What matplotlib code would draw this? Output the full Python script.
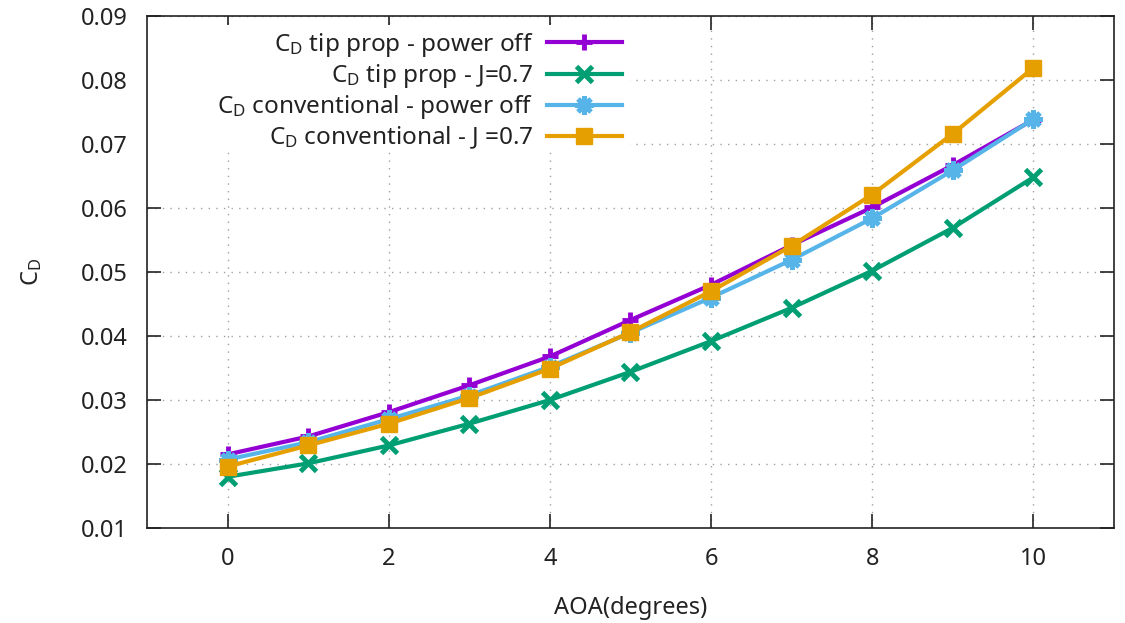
import matplotlib
matplotlib.use("Agg")
import matplotlib.pyplot as plt
from matplotlib.patches import Rectangle

aoa = [0, 1, 2, 3, 4, 5, 6, 7, 8, 9, 10]
cd_tip_off = [0.0215, 0.0243, 0.0281, 0.0323, 0.0368, 0.0425, 0.0480, 0.0542, 0.0601, 0.0667, 0.0738]
cd_tip_j07 = [0.0180, 0.0201, 0.0229, 0.0263, 0.0300, 0.0344, 0.0392, 0.0444, 0.0502, 0.0569, 0.0648]
cd_conv_off = [0.0207, 0.0234, 0.0270, 0.0307, 0.0352, 0.0405, 0.0460, 0.0519, 0.0584, 0.0659, 0.0739]
cd_conv_j07 = [0.0196, 0.0229, 0.0263, 0.0303, 0.0349, 0.0406, 0.0470, 0.0541, 0.0621, 0.0716, 0.0819]

labels = [r"C$_\mathrm{D}$ tip prop - power off",
          r"C$_\mathrm{D}$ tip prop - J=0.7",
          r"C$_\mathrm{D}$ conventional - power off",
          r"C$_\mathrm{D}$ conventional - J =0.7"]
xticks = [0, 2, 4, 6, 8, 10]
yticks = [0.01, 0.02, 0.03, 0.04, 0.05, 0.06, 0.07, 0.08, 0.09]

plt.rcParams['font.family'] = ['Noto Sans', 'DejaVu Sans']
plt.rcParams['mathtext.fontset'] = 'custom'
plt.rcParams['mathtext.rm'] = 'Noto Sans'
plt.rcParams['mathtext.it'] = 'Noto Sans:italic'
plt.rcParams['mathtext.bf'] = 'Noto Sans:bold'
fs = 17
tc = '#222222'

fig = plt.figure(figsize=(11.25, 6.23), dpi=100)
ax = fig.add_axes([147/1125, 1-528/623, (1114-147)/1125, (528-16)/623])

ax.plot(aoa, cd_tip_off, color='#9400d3', lw=3, marker='+', ms=12, mew=3.5, label=labels[0], zorder=3)
ax.plot(aoa, cd_tip_j07, color='#009e73', lw=3, marker='x', ms=11, mew=3.5, label=labels[1], zorder=3)
ax.plot(aoa, cd_conv_off, color='#56b4e9', lw=3, marker=(8, 2, 0), ms=13, mew=3.5, label=labels[2], zorder=3)
ax.plot(aoa, cd_conv_j07, color='#e69f00', lw=3, marker='s', ms=11, mew=1, label=labels[3], zorder=3)

ax.set_xlim(-1, 11)
ax.set_ylim(0.01, 0.09)
ax.set_xticks(xticks)
ax.set_yticks(yticks)
ax.set_xticklabels([str(v) for v in xticks], fontsize=fs)
ax.set_yticklabels([f"{v:.2f}" for v in yticks], fontsize=fs)
ax.tick_params(direction='in', length=10, width=1.2, top=True, right=True, colors=tc)
ax.tick_params(axis='y', pad=14)
ax.tick_params(axis='x', pad=14)
for s in ax.spines.values():
    s.set_linewidth(1.2)
    s.set_color(tc)

ax.set_axisbelow(True)
ax.grid(True, color='#a0a0a0', lw=1, linestyle=(0, (1, 4.5)))

ax.add_patch(Rectangle((0, (528-150)/512), (630-147)/967, (150-25)/512,
                       transform=ax.transAxes, facecolor='white', edgecolor='none', zorder=1))

ax.set_xlabel("AOA(degrees)", fontsize=fs, labelpad=18, color=tc)
ax.set_ylabel(r"C$_\mathrm{D}$", fontsize=fs, labelpad=26, color=tc)

leg = ax.legend(loc='upper right', bbox_to_anchor=(622/1125, 1-31/623), bbox_transform=fig.transFigure,
                markerfirst=False, frameon=False, prop={'size': 17.5}, handlelength=3.1, handletextpad=0.55,
                labelspacing=0.13, borderpad=0, borderaxespad=0)
for t in leg.get_texts():
    t.set_color(tc)

fig.savefig("out.png", dpi=100)
